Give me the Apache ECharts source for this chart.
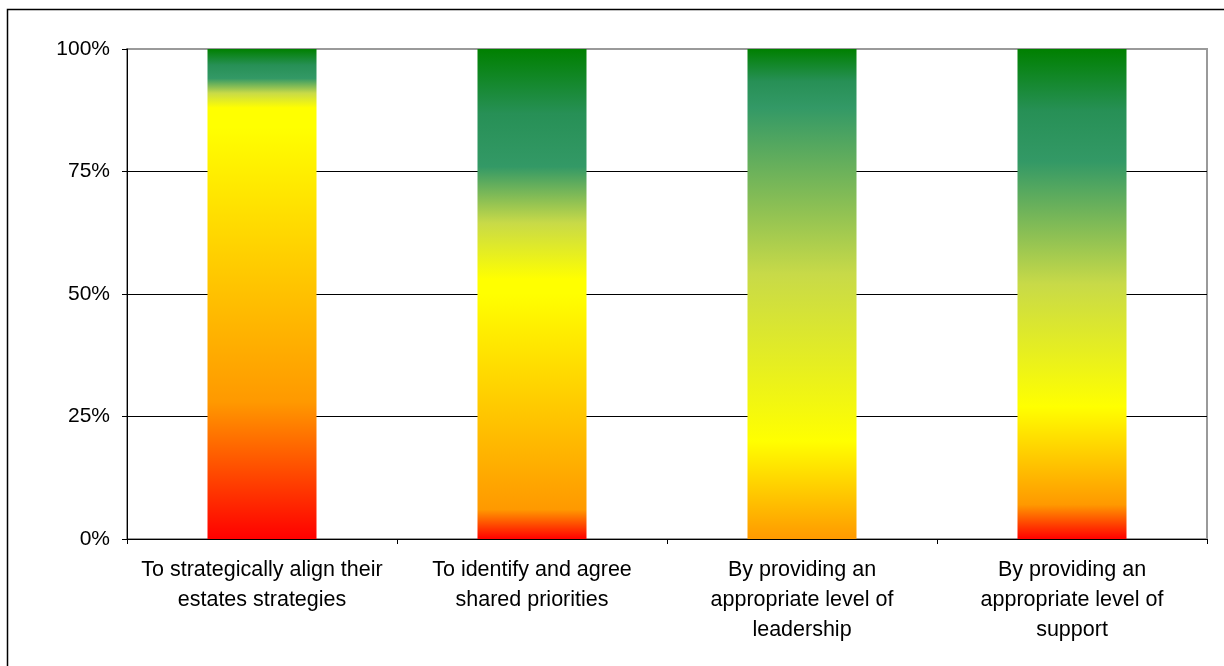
<!DOCTYPE html>
<html>
<head>
<meta charset="utf-8">
<script src="https://cdn.jsdelivr.net/npm/echarts@6/dist/echarts.min.js"></script>
<style>
  html, body { margin: 0; padding: 0; background: #fff; }
  #chart { width: 1224px; height: 666px; }
</style>
</head>
<body>
<div id="chart"></div>
<script>
// Survey questions along the x axis
const categories = [
  'To strategically align their\nestates strategies',
  'To identify and agree\nshared priorities',
  'By providing an\nappropriate level of\nleadership',
  'By providing an\nappropriate level of\nsupport'
];

// Height (in % of each bar) of every colour band, bottom to top
const redToOrange    = [28, 6, 0, 7];
const orangeToYellow = [56, 44, 20, 20];
const yellowHold     = [4, 3, 0, 0];
const yellowToTeal   = [6, 23, 68, 50];
const tealToGreen    = [6, 24, 12, 23];

// Y axis range and step
const yMin = 0, yMax = 100, yStep = 25;

const RED = '#FF0000', ORANGE = '#FF9900', YELLOW = '#FFFF00',
      LIME = '#C8DA48', TEAL = '#339966', TEAL_DARK = '#279056', GREEN = '#008000';

// colour ramp of each band: [position inside the band, colour]
const bands = [
  { data: redToOrange,    ramp: [[0, RED], [1, ORANGE]] },
  { data: orangeToYellow, ramp: [[0, ORANGE], [1, YELLOW]] },
  { data: yellowHold,     ramp: [[0, YELLOW], [1, YELLOW]] },
  { data: yellowToTeal,   ramp: [[0, YELLOW], [0.5, LIME], [1, TEAL]] },
  { data: tealToGreen,    ramp: [[0, TEAL], [0.45, TEAL_DARK], [1, GREEN]] }
];

// One bar per question: its height is the sum of the bands, and the
// bands become stops of a single bottom-to-top gradient (no seams).
const barData = categories.map((_, i) => {
  const total = bands.reduce((s, b) => s + b.data[i], 0);
  const stops = [];
  let start = 0;
  bands.forEach(b => {
    const h = b.data[i];
    if (h > 0) {
      b.ramp.forEach(([t, color]) => {
        stops.push({ offset: (start + t * h) / total, color });
      });
    }
    start += h;
  });
  return {
    value: total,
    itemStyle: {
      color: { type: 'linear', x: 0, y: 1, x2: 0, y2: 0, colorStops: stops }
    }
  };
});

const FONT = '"Liberation Sans", Arial, sans-serif';

const chart = echarts.init(document.getElementById('chart'), null, { renderer: 'canvas' });

chart.setOption({
  animation: false,
  backgroundColor: '#ffffff',
  textStyle: { fontFamily: FONT },
  graphic: [{
    type: 'rect',
    silent: true,
    shape: { x: 7.5, y: 9.5, width: 1300, height: 700 },
    style: { fill: 'none', stroke: '#000', lineWidth: 1.5 },
    z: 100
  }],
  grid: {
    left: 127, right: 17, top: 49, bottom: 127,
    show: true,
    borderColor: '#9a9a9a',
    borderWidth: 2,
    backgroundColor: '#ffffff'
  },
  xAxis: {
    type: 'category',
    data: categories,
    axisLine: { show: true, lineStyle: { color: '#000', width: 1 } },
    axisTick: { show: true, length: 5, alignWithLabel: false, lineStyle: { color: '#000' } },
    axisLabel: {
      interval: 0,
      margin: 16,
      color: '#000',
      fontFamily: FONT,
      fontSize: 21.5,
      lineHeight: 30,
      align: 'center'
    },
    splitLine: { show: false }
  },
  yAxis: {
    type: 'value',
    min: yMin, max: yMax, interval: yStep,
    axisLine: { show: true, lineStyle: { color: '#000', width: 1 } },
    axisTick: { show: true, length: 5, lineStyle: { color: '#000' } },
    axisLabel: {
      formatter: '{value}%',
      margin: 17,
      color: '#000',
      fontFamily: FONT,
      fontSize: 21
    },
    splitLine: {
      show: true,
      lineStyle: { color: ['#000', '#000', '#000', '#000', '#9a9a9a'], width: 1 }
    }
  },
  series: [{
    type: 'bar',
    name: 'share',
    barWidth: 109,
    data: barData,
    itemStyle: { borderWidth: 0 },
    emphasis: { disabled: true }
  }]
});
</script>
</body>
</html>
